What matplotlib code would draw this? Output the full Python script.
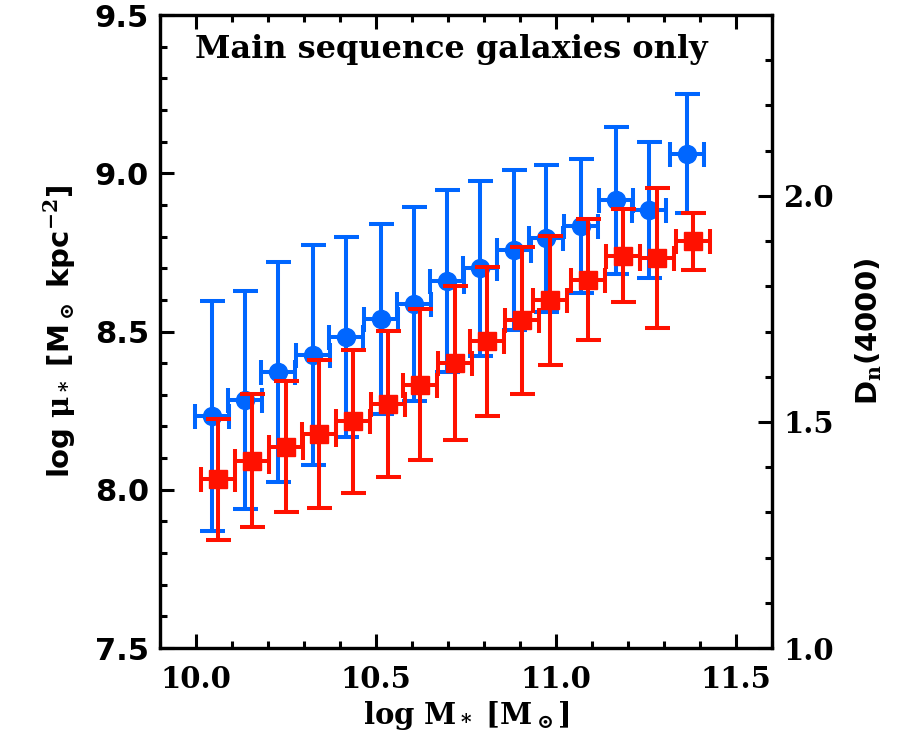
import matplotlib
matplotlib.use("Agg")
import matplotlib.pyplot as plt
from matplotlib.ticker import MultipleLocator

# blue: log mu* (left axis)
mass_blue = [10.044, 10.136, 10.228, 10.325, 10.417, 10.514, 10.606, 10.697,
             10.789, 10.883, 10.972, 11.069, 11.167, 11.258, 11.364]
mu_blue = [8.233, 8.284, 8.372, 8.426, 8.484, 8.540, 8.588, 8.660,
           8.700, 8.757, 8.795, 8.834, 8.915, 8.883, 9.061]
mu_err = [0.363, 0.345, 0.349, 0.347, 0.316, 0.301, 0.306, 0.287,
          0.276, 0.253, 0.232, 0.212, 0.232, 0.215, 0.188]

# red: Dn(4000) (right axis)
mass_red = [10.061, 10.156, 10.250, 10.342, 10.436, 10.533, 10.622, 10.719,
            10.808, 10.906, 10.983, 11.089, 11.186, 11.281, 11.381]
dn_red = [1.373, 1.414, 1.445, 1.473, 1.501, 1.540, 1.582, 1.630,
          1.678, 1.725, 1.769, 1.815, 1.868, 1.862, 1.900]
dn_err = [0.134, 0.147, 0.145, 0.164, 0.158, 0.162, 0.167, 0.170,
          0.164, 0.163, 0.143, 0.133, 0.103, 0.155, 0.063]

bin_half = 0.048

blue = "#0066ff"
red = "#ff1100"

plt.rcParams['mathtext.fontset'] = 'dejavuserif'
plt.rcParams['mathtext.default'] = 'bf'

fig = plt.figure(figsize=(9.16, 7.55), dpi=100)
ax = fig.add_axes([0.1747, 0.1417, 0.668, 0.8384])

ax.errorbar(mass_blue, mu_blue, xerr=bin_half, yerr=mu_err, fmt='o', color=blue,
            ms=13, elinewidth=2.9, capsize=9, capthick=2.9)
ax.set_xlim(9.9, 11.6)
ax.set_ylim(7.5, 9.5)

ax2 = ax.twinx()
ax2.errorbar(mass_red, dn_red, xerr=bin_half, yerr=dn_err, fmt='s', color=red,
             ms=13, elinewidth=2.9, capsize=9, capthick=2.9)
ax2.set_ylim(1.0, 2.4)

for a in (ax, ax2):
    for s in a.spines.values():
        s.set_linewidth(2.3)
        s.set_color('black')

ax.xaxis.set_major_locator(MultipleLocator(0.5))
ax.xaxis.set_minor_locator(MultipleLocator(0.1))
ax.yaxis.set_major_locator(MultipleLocator(0.5))
ax.yaxis.set_minor_locator(MultipleLocator(0.1))
ax2.yaxis.set_major_locator(MultipleLocator(0.5))
ax2.yaxis.set_minor_locator(MultipleLocator(0.1))
ax2.set_yticks([1.0, 1.5, 2.0])

ax.tick_params(which='both', direction='in', top=True, right=False, width=2.2)
ax.tick_params(which='major', length=10)
ax.tick_params(which='minor', length=5)
ax.tick_params(axis='x', pad=12)
ax.tick_params(axis='y', pad=8)
ax2.tick_params(which='both', direction='in', width=2.2, pad=8)
ax2.tick_params(which='major', length=10)
ax2.tick_params(which='minor', length=5)

ax.set_xticklabels(['%.1f' % v for v in ax.get_xticks()], family='DejaVu Serif',
                   weight='bold', fontsize=21)
ax.set_yticks([7.5, 8.0, 8.5, 9.0, 9.5])
ax.set_yticklabels(['7.5', '8.0', '8.5', '9.0', '9.5'], family='DejaVu Sans',
                   weight='bold', fontsize=22)
ax2.set_yticklabels(['1.0', '1.5', '2.0'], family='DejaVu Serif',
                    weight='bold', fontsize=21)

ax.set_xlabel(r'log M$_*$ [M$_\odot$]', family='DejaVu Serif', weight='bold',
              fontsize=21, labelpad=4)
ax.set_ylabel(r'log $\mu_*$ [M$_\odot$ kpc$^{-2}$]', family='DejaVu Sans',
              weight='bold', fontsize=21, labelpad=12)
ax2.set_ylabel(r'D$_n$(4000)', family='DejaVu Sans', weight='bold',
               fontsize=21, labelpad=14)

ax.text(0.057, 0.945, 'Main sequence galaxies only', transform=ax.transAxes,
        family='DejaVu Serif', weight='bold', fontsize=23, va='center', ha='left')

fig.savefig('out.png', dpi=100)
